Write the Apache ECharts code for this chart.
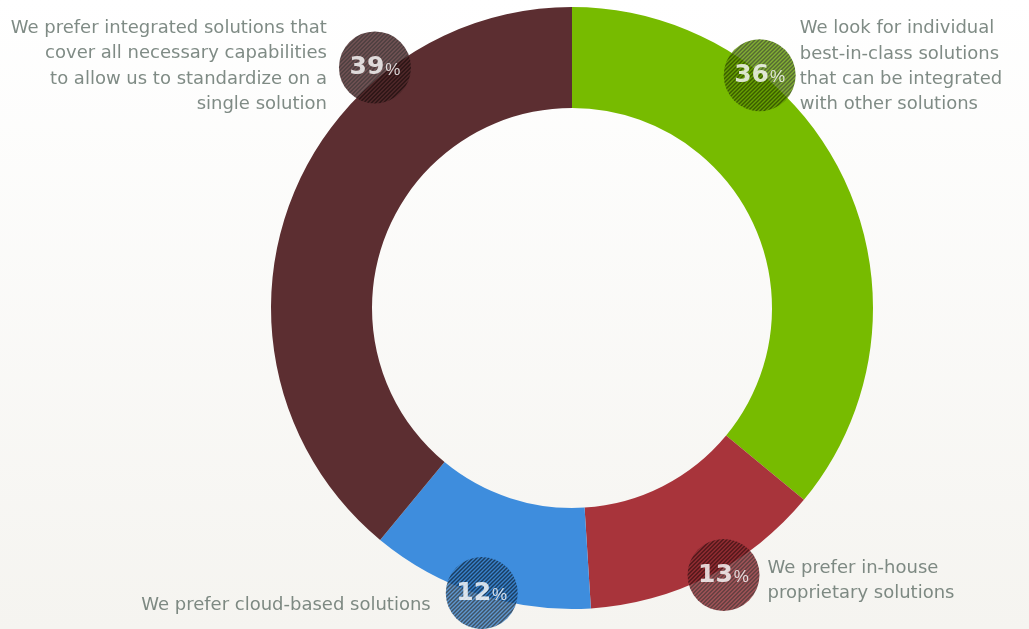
<!DOCTYPE html>
<html>
<head>
<meta charset="utf-8">
<style>
  html, body { margin: 0; padding: 0; background: #fff; }
  #chart { width: 1029px; height: 629px; }
</style>
<script src="https://cdn.jsdelivr.net/npm/echarts@6/dist/echarts.min.js"></script>
</head>
<body>
<div id="chart"></div>
<script>
// Survey answers, clockwise from 12 o'clock
const categories = [
  'We look for individual\nbest-in-class solutions\nthat can be integrated\nwith other solutions',
  'We prefer in-house\nproprietary solutions',
  'We prefer cloud-based solutions',
  'We prefer integrated solutions that\ncover all necessary capabilities\nto allow us to standardize on a\nsingle solution'
];
const shares = [36, 13, 12, 39];

// Presentation settings
const sliceColors = ['#77bb00', '#a8343b', '#3e8ddd', '#5c2e31'];
const badgeAt = [0.30, 0.445, 0.49, 0.72];         // where the badge sits inside its slice (0..1)
const badgeRadius = [299, 307, 299, 311];          // distance of each badge from the ring centre
const captionSide = ['right', 'right', 'left', 'left'];
const captionGap = [40, 44, 51, 48];
const captionShift = [-8.5, 6, 12.5, -1];

const CX = 572, CY = 308, R_IN = 200, R_OUT = 301, BADGE = 72;

// striped fill for the round value badges; symbols are drawn scaled by size/2,
// so the tile is shrunk back to keep the stripes a few pixels apart
function stripes(base) {
  const c = document.createElement('canvas');
  c.width = c.height = 4;
  const g = c.getContext('2d');
  g.fillStyle = base;
  g.fillRect(0, 0, 4, 4);
  g.strokeStyle = 'rgba(0,0,0,0.78)';
  g.lineWidth = 1.5;
  g.beginPath();
  g.moveTo(0, 4); g.lineTo(4, 0);
  g.moveTo(-1, 1); g.lineTo(1, -1);
  g.moveTo(3, 5); g.lineTo(5, 3);
  g.stroke();
  return { image: c, repeat: 'repeat', scaleX: 2 / BADGE, scaleY: 2 / BADGE };
}

const total = shares.reduce((a, b) => a + b, 0);
let acc = 0;
const badgePoints = shares.map((v, i) => {
  const start = acc / total * 360;
  acc += v;
  const ang = start + badgeAt[i] * v / total * 360;
  return { value: [badgeRadius[i], ang], share: v, idx: i };
});

const chart = echarts.init(document.getElementById('chart'), null, { renderer: 'canvas' });

chart.setOption({
  animation: false,
  backgroundColor: {
    type: 'linear', x: 0, y: 0, x2: 0, y2: 1,
    colorStops: [{ offset: 0, color: '#ffffff' }, { offset: 1, color: '#f5f4f0' }]
  },
  polar: { center: [CX, CY], radius: 320 },
  angleAxis: { type: 'value', min: 0, max: 360, startAngle: 90, clockwise: true, show: false },
  radiusAxis: { type: 'value', min: 0, max: 320, show: false },
  series: [
    {
      type: 'pie',
      center: [CX, CY],
      radius: [R_IN, R_OUT],
      startAngle: 90,
      clockwise: true,
      silent: true,
      label: { show: false },
      labelLine: { show: false },
      itemStyle: { borderWidth: 0 },
      data: shares.map((v, i) => ({ value: v, name: categories[i], itemStyle: { color: sliceColors[i] } }))
    },
    {
      // captions beside each badge
      type: 'scatter',
      coordinateSystem: 'polar',
      clip: false,
      silent: true,
      z: 3,
      symbolSize: 0.1,
      itemStyle: { color: 'rgba(0,0,0,0)' },
      data: badgePoints.map(p => ({
        value: p.value,
        label: {
          show: true,
          position: captionSide[p.idx],
          distance: captionGap[p.idx],
          offset: [0, captionShift[p.idx]],
          formatter: categories[p.idx],
          fontFamily: 'DejaVu Sans',
          fontSize: 18,
          lineHeight: 25.3,
          color: '#5f6e67',
          textBorderWidth: 0
        }
      }))
    },
    {
      // round value badges
      type: 'scatter',
      coordinateSystem: 'polar',
      clip: false,
      silent: true,
      z: 4,
      symbol: 'circle',
      symbolSize: BADGE,
      data: badgePoints.map(p => ({
        value: p.value,
        itemStyle: { color: stripes(sliceColors[p.idx]) },
        label: {
          show: true,
          position: 'inside',
          textBorderWidth: 0,
          formatter: '{n|' + p.share + '}{p|%}',
          rich: {
            n: { fontFamily: 'DejaVu Sans', fontWeight: 'bold', fontSize: 25, color: '#ffffff', textBorderWidth: 0 },
            p: { fontFamily: 'Liberation Sans', fontSize: 17, color: '#ffffff', textBorderWidth: 0, padding: [5, 0, 0, 1] }
          }
        }
      }))
    }
  ]
});
</script>
</body>
</html>
